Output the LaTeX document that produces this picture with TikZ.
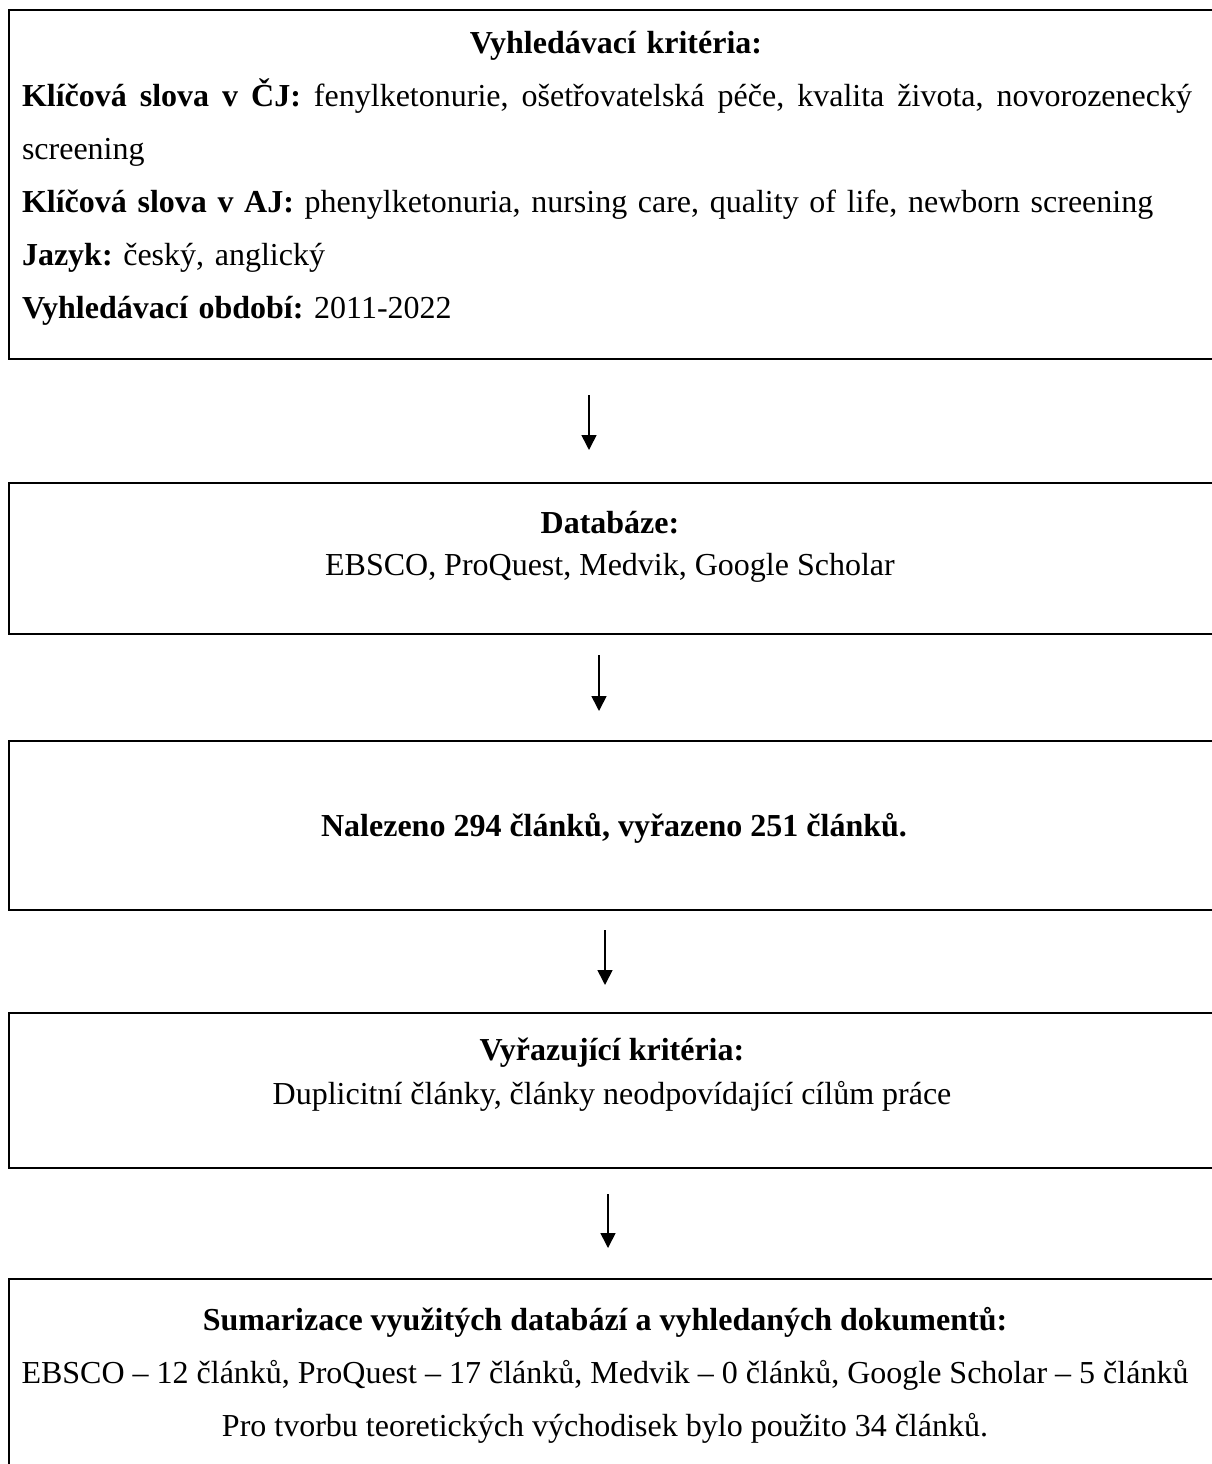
\documentclass[tikz,border=0pt]{standalone}
\usepackage{fontspec}
\setmainfont{Liberation Serif}
\usetikzlibrary{arrows.meta,positioning}
\frenchspacing
\tikzset{
  box/.style={draw, line width=2pt, minimum width=1210pt, anchor=north west, inner sep=0pt},
  txt/.style={font=\fontsize{32}{53}\selectfont, inner sep=0pt, align=center},
  arr/.style={-{Triangle[length=15pt,width=15pt]}, line width=1.6pt}
}
\begin{document}
\begin{tikzpicture}[x=1pt,y=-1pt]
\useasboundingbox (0,0) rectangle (1212,1464);
\clip (0,0) rectangle (1212,1464);
% boxes
\node[box, minimum height=349pt] (krit) at (8,9) {};
\node[box, minimum height=151pt] (db) at (8,482) {};
\node[box, minimum height=169pt] (nal) at (8,740) {};
\node[box, minimum height=155pt] (vyr) at (8,1012) {};
\node[box, minimum height=220pt] (sum) at (8,1278) {};
% texts
\node[txt, text width=1170pt, align=left] (kritt) at (607,178) {%
\makebox[1170pt]{\hspace{18pt}\textbf{Vyhledávací kritéria:}}\\
\makebox[1170pt][s]{\spaceskip=0.25em plus 1fil\textbf{Klíčová slova v ČJ:} fenylketonurie, ošetřovatelská péče, kvalita života, novorozenecký}\\
screening\\
\textbf{Klíčová slova v AJ:} phenylketonuria, nursing care, quality of life, newborn screening\\
\textbf{Jazyk:} český, anglický\\
\textbf{Vyhledávací období:} 2011-2022};
\node[txt, font=\fontsize{32}{42}\selectfont] (dbt) at (610,547) {\textbf{Databáze:}\\EBSCO, ProQuest, Medvik, Google Scholar};
\node[txt] (nalt) at (614,828) {\textbf{Nalezeno 294 článků, vyřazeno 251 článků.}};
\node[txt, font=\fontsize{32}{44}\selectfont] (vyrt) at (612,1075) {\textbf{Vyřazující kritéria:}\\Duplicitní články, články neodpovídající cílům práce};
\node[txt] (sumt) at (605,1375) {\textbf{Sumarizace využitých databází a vyhledaných dokumentů:}\\
EBSCO – 12 článků, ProQuest – 17 článků, Medvik – 0 článků, Google Scholar – 5 článků\\
Pro tvorbu teoretických východisek bylo použito 34 článků.};
% arrows
\draw[arr] ([xshift=-25pt,yshift=-35pt]krit.south) -- ([xshift=-25pt,yshift=32pt]db.north);
\draw[arr] ([xshift=-15pt,yshift=-20pt]db.south) -- ([xshift=-15pt,yshift=29pt]nal.north);
\draw[arr] ([xshift=-9pt,yshift=-19pt]nal.south) -- ([xshift=-9pt,yshift=27pt]vyr.north);
\draw[arr] ([xshift=-6pt,yshift=-25pt]vyr.south) -- ([xshift=-6pt,yshift=30pt]sum.north);
\end{tikzpicture}
\end{document}
